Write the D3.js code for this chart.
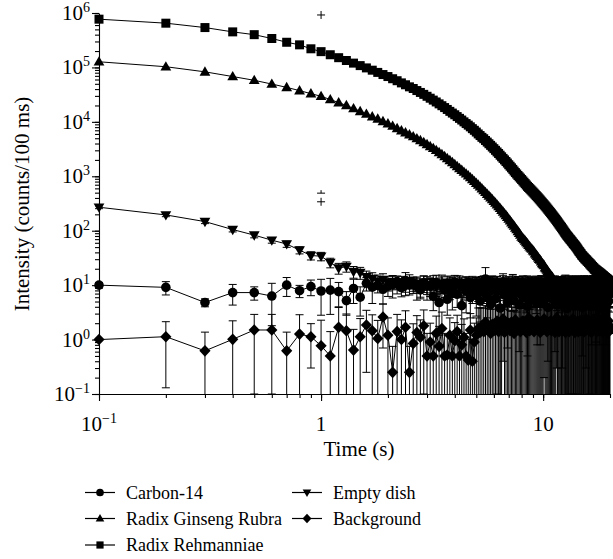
<!DOCTYPE html>
<html>
<head>
<meta charset="utf-8">
<script src="https://cdn.jsdelivr.net/npm/d3@7"></script>
<style>
  body { margin: 0; background: #fff; }
</style>
</head>
<body>
<svg id="chart" width="613" height="559"></svg>
<script>
// one reading every 100 ms, 0.1 s .. 20 s
var times = d3.range(1, 201).map(function (i) { return i / 10; });

var seriesNames = ['Carbon-14', 'Radix Ginseng Rubra', 'Radix Rehmanniae', 'Empty dish', 'Background'];

var carbonValues = [
  10, 9.1, 4.8, 7.3, 7.3, 6.3, 10, 7.9, 9.4, 7.8,
  8.1, 7.6, 5.2, 8.7, 6.0, 10.8, 9.2, 10, 8.4, 9.6,
  10.2, 11.6, 9.0, 12.2, 10.1, 10.9, 9.4, 8.2, 11, 9.8,
  9.5, 6.2, 11.0, 4.8, 10.2, 8.1, 5.5, 9.8, 7.0, 11.2,
  6.8, 10.4, 4.2, 9.1, 7.7, 11.3, 5.9, 8.6, 10.0, 6.4,
  9.2, 5.1, 10.8, 7.4, 13.0, 6.0, 9.6, 4.5, 11.0, 8.2,
  5.6, 10.1, 7.9, 3.8, 9.4, 11.5, 6.6, 8.8, 4.9, 10.6,
  8.0, 6.3, 11.2, 5.2, 9.7, 7.2, 10.4, 4.4, 8.9, 6.9,
  10.9, 5.8, 8.5, 7.5, 4.1, 11.1, 6.7, 9.3, 5.4, 10.2,
  7.8, 9.9, 6.1, 4.6, 10.7, 8.3, 5.0, 11.4, 7.1, 9.0,
  5.3, 10.5, 8.7, 6.5, 3.9, 9.8, 7.6, 11.0, 5.7, 8.4,
  10.1, 6.8, 4.7, 9.5, 7.3, 11.3, 5.5, 8.1, 6.2, 10.4,
  7.0, 4.3, 9.9, 8.6, 5.9, 10.8, 6.4, 3.7, 9.2, 7.7,
  11.0, 5.2, 8.3, 6.9, 10.3, 4.8, 9.0, 7.4, 5.6, 10.6,
  6.6, 9.4, 4.4, 11.2, 7.9, 5.3, 10.0, 8.5, 6.1, 3.9,
  9.7, 7.1, 10.9, 5.8, 8.2, 4.6, 11.1, 6.7, 9.3, 7.5,
  5.0, 10.2, 8.0, 6.3, 4.2, 9.6, 7.2, 10.7, 5.4, 8.8,
  10.5, 6.0, 4.9, 9.1, 7.6, 11.4, 5.7, 8.4, 6.8, 3.8,
  8.6, 10.0, 5.5, 7.3, 9.8, 4.5, 10.8, 6.5, 8.1, 5.9,
  9.4, 4.7, 10.3, 7.8, 6.2, 11.0, 5.1, 8.9, 7.0, 9.6
];
var carbonErrors = [
  1.2, 2.5, 0.8, 3.0, 2.0, 4.5, 3.8, 2.0, 3.0, 5.0,
  5.2, 3.6, 2.4, 4.1, 3.3, 3.0, 4.6, 2.8, 3.9, 3.4,
  4.4, 3.1, 2.9, 4.8, 3.5, 3.2, 4.1, 2.6, 3.7, 4.5,
  3.3, 2.8, 4.2, 3.6, 5.1, 3.0, 2.7, 4.4, 3.5, 3.9,
  2.9, 4.3, 3.2, 3.8, 4.6, 2.6, 3.4, 4.0, 3.1, 3.7,
  4.2, 3.0, 3.6, 2.8, 8.0, 3.5, 4.4, 2.9, 3.8, 3.3,
  3.6, 4.1, 2.7, 3.9, 3.2, 4.7, 3.0, 3.5, 4.2, 2.8,
  3.4, 3.0, 4.5, 3.7, 2.9, 4.0, 3.3, 3.8, 4.3, 3.1,
  3.9, 3.2, 2.8, 4.4, 3.6, 3.0, 4.1, 3.4, 3.7, 2.9,
  3.5, 4.0, 3.1, 3.8, 2.7, 3.3, 4.2, 3.6, 3.0, 3.9,
  3.2, 3.7, 2.9, 4.3, 3.5, 3.1, 3.8, 2.8, 4.4, 3.4,
  3.6, 3.0, 4.1, 3.3, 3.9, 2.8, 3.5, 4.2, 3.1, 3.7,
  3.3, 4.0, 2.9, 3.6, 3.2, 4.5, 3.0, 3.8, 3.4, 3.1,
  3.8, 3.2, 3.5, 2.9, 4.2, 3.4, 3.0, 3.7, 3.9, 3.3,
  3.1, 4.3, 3.0, 3.6, 2.8, 3.5, 4.1, 3.2, 3.8, 3.4,
  3.5, 2.9, 3.9, 3.3, 4.4, 3.0, 3.7, 3.1, 3.6, 4.0,
  3.2, 3.8, 2.7, 4.1, 3.4, 3.6, 3.0, 4.3, 3.3, 2.9,
  3.7, 3.1, 4.0, 2.8, 3.5, 3.9, 3.2, 3.6, 4.2, 3.0,
  3.4, 3.6, 3.0, 4.5, 3.1, 3.3, 3.8, 2.9, 3.7, 3.5,
  3.0, 3.9, 3.3, 3.6, 4.1, 3.2, 3.5, 3.0, 3.8, 3.4
];

var ginsengValues = [
  1.27e5, 1.03e5, 8.3e4, 6.8e4, 5.8e4, 4.95e4, 4.3e4, 3.75e4, 3.3e4, 2.95e4,
  2.57e4, 2.26e4, 2.0e4, 1.76e4, 1.56e4, 1.39e4, 1.25e4, 1.13e4, 1.02e4, 9270,
  8400, 7600, 6890, 6340, 5830, 5370, 4940, 4550, 4190, 3850,
  3550, 3270, 3000, 2750, 2530, 2320, 2130, 1960, 1800, 1650,
  1520, 1400, 1300, 1200, 1110, 1030, 948, 877, 811, 750,
  693, 641, 593, 548, 508, 471, 437, 406, 376, 348,
  324, 300, 278, 258, 239, 222, 206, 191, 177, 164,
  152, 141, 131, 122, 113, 105, 97, 90, 84, 77,
  73, 69, 65, 61, 58, 54, 51, 48, 46, 43,
  41, 38, 36, 34, 32, 30, 29, 27, 25, 24,
  23, 21, 20, 19, 18, 17, 16, 15.5, 14.5, 14,
  13, 12.5, 12, 11.5, 12, 10.5, 11, 10, 10.5, 9.5,
  10, 9, 11, 9.5, 8.5, 10, 9, 10.5, 8, 9.5,
  9, 10, 8.5, 11, 9, 8, 9.5, 10, 9, 8.5,
  10, 9, 8, 9.5, 11, 9, 8.5, 10, 9, 7.5,
  9, 10, 8.5, 9, 10.5, 8, 9, 9.5, 8.5, 10,
  9, 8, 10, 9.5, 8.5, 9, 11, 8, 9, 10,
  8.5, 9, 10, 9, 8, 9.5, 10.5, 9, 8.5, 9,
  10, 8, 9, 9.5, 11, 8.5, 9, 10, 8, 9.5,
  9, 10, 8.5, 9, 9.5, 8, 10.5, 9, 9, 8.5
];

var rehmanniaeValues = [
  7.7e5, 6.5e5, 5.4e5, 4.5e5, 4.0e5, 3.4e5, 2.9e5, 2.6e5, 2.2e5, 1.95e5,
  1.71e5, 1.51e5, 1.34e5, 1.20e5, 1.08e5, 9.8e4, 8.9e4, 8.1e4, 7.4e4, 6.8e4,
  6.2e4, 5.7e4, 5.2e4, 4.8e4, 4.4e4, 4.1e4, 3.76e4, 3.47e4, 3.2e4, 2.95e4,
  2.72e4, 2.51e4, 2.32e4, 2.14e4, 1.98e4, 1.83e4, 1.69e4, 1.56e4, 1.45e4, 1.35e4,
  1.25e4, 1.16e4, 1.08e4, 1.0e4, 9300, 8700, 8100, 7500, 7000, 6500,
  6000, 5600, 5200, 4900, 4550, 4250, 3960, 3700, 3450, 3220,
  3000, 2800, 2620, 2440, 2280, 2130, 2000, 1870, 1750, 1630,
  1530, 1430, 1340, 1250, 1170, 1100, 1035, 977, 923, 871,
  822, 776, 733, 692, 653, 622, 593, 565, 538, 513,
  489, 466, 444, 423, 403, 384, 366, 348, 332, 316,
  301, 287, 274, 261, 248, 237, 225, 215, 205, 195,
  186, 177, 169, 161, 153, 146, 139, 132, 126, 120,
  115, 109, 104, 99, 94, 90, 86, 82, 79, 76,
  73, 70, 68, 65, 63, 60, 58, 56, 54, 52,
  50, 48, 46, 44, 42, 41, 39, 38, 36, 35,
  34, 32.6, 32.4, 30.6, 30.3, 29.2, 28.9, 27.5, 27.4, 26.1,
  25.9, 24.6, 24.6, 23.2, 23.3, 21.9, 22.1, 20.8, 20.9, 19.6,
  19.9, 18.9, 19.2, 18.2, 18.5, 17.5, 17.8, 16.9, 17.2, 16.3,
  16.6, 15.7, 16.0, 15.1, 15.4, 14.5, 14.9, 14.0, 14.3, 13.5,
  13.8, 13.0, 13.3, 12.5, 12.9, 12.0, 12.4, 11.6, 12.0, 11.3
];

var emptyDishValues = [
  270, 195, 147, 105, 83, 67, 57, 44, 35, 34,
  26, 20.5, 22, 17.7, 17, 14.3, 13.2, 11.8, 12.6, 11.2,
  11.6, 10.0, 11.2, 9.4, 12.0, 10.2, 10.8, 9.0, 11.4, 9.8,
  10.4, 11.5, 9.2, 10.3, 10.9, 8.8, 11.3, 9.9, 10.6, 9.1,
  11.4, 9.5, 10.5, 8.9, 11.0, 9.9, 9.3, 11.2, 9.6, 10.6,
  9.0, 10.9, 9.6, 11.4, 9.2, 10.3, 9.8, 11.1, 8.7, 10.5,
  10.1, 11.2, 9.1, 10.2, 9.7, 11.5, 8.8, 10.8, 9.4, 11.0,
  10.4, 9.0, 11.3, 9.6, 10.7, 9.2, 11.1, 9.9, 10.2, 8.9,
  11.2, 9.8, 10.5, 9.1, 11.4, 9.4, 10.6, 8.8, 11.0, 9.9,
  10.3, 9.2, 11.3, 9.5, 10.8, 9.0, 11.0, 10.0, 10.4, 9.3,
  11.2, 9.7, 10.2, 9.0, 11.5, 9.4, 10.6, 8.7, 11.1, 9.9,
  10.1, 9.1, 11.4, 9.6, 10.9, 8.9, 11.0, 9.8, 10.5, 9.2,
  11.1, 9.3, 10.7, 8.9, 11.5, 9.8, 10.3, 8.8, 11.0, 10.0,
  10.5, 9.0, 11.3, 9.5, 10.8, 9.2, 11.1, 9.7, 10.2, 9.1,
  11.4, 9.6, 10.4, 8.9, 11.0, 10.0, 10.6, 8.9, 11.2, 9.4,
  10.7, 9.2, 11.4, 9.8, 10.3, 8.8, 11.1, 9.9, 10.5, 9.3,
  11.0, 9.1, 10.9, 9.5, 11.3, 9.7, 10.2, 9.0, 11.2, 10.0,
  10.4, 8.9, 11.5, 9.4, 10.6, 9.2, 11.0, 9.8, 10.4, 8.8,
  11.3, 10.0, 10.7, 9.0, 11.1, 9.6, 10.5, 9.1, 11.4, 9.5,
  10.8, 9.2, 11.1, 9.8, 10.3, 8.9, 11.2, 9.7, 10.6, 9.3
];
var emptyDishErrors = [
  16, 14, 12, 10, 9, 8, 7.5, 6.5, 6, 6,
  5.2, 4.6, 4.7, 4.3, 4.2, 3.8, 3.7, 3.5, 3.6, 3.4,
  3.4, 3.1, 3.3, 3.0, 3.5, 3.2, 3.3, 3.0, 3.4, 3.1,
  3.2, 3.4, 3.0, 3.2, 3.3, 2.9, 3.4, 3.1, 3.3, 3.0,
  3.4, 3.1, 3.2, 3.0, 3.3, 3.1, 3.0, 3.3, 3.1, 3.2,
  3.0, 3.3, 3.1, 3.4, 3.0, 3.2, 3.1, 3.3, 2.9, 3.2,
  3.2, 3.3, 3.0, 3.2, 3.1, 3.4, 3.0, 3.3, 3.1, 3.3,
  3.2, 3.0, 3.4, 3.1, 3.3, 3.0, 3.3, 3.1, 3.2, 3.0,
  3.3, 3.1, 3.2, 3.0, 3.4, 3.1, 3.3, 3.0, 3.3, 3.1,
  3.2, 3.0, 3.4, 3.1, 3.3, 3.0, 3.3, 3.2, 3.2, 3.1,
  3.3, 3.1, 3.2, 3.0, 3.4, 3.1, 3.3, 2.9, 3.3, 3.1,
  3.2, 3.0, 3.4, 3.1, 3.3, 3.0, 3.3, 3.1, 3.2, 3.0,
  3.3, 3.1, 3.3, 3.0, 3.4, 3.1, 3.2, 3.0, 3.3, 3.2,
  3.2, 3.0, 3.4, 3.1, 3.3, 3.0, 3.3, 3.1, 3.2, 3.0,
  3.4, 3.1, 3.2, 3.0, 3.3, 3.2, 3.3, 3.0, 3.3, 3.1,
  3.3, 3.0, 3.4, 3.1, 3.2, 3.0, 3.3, 3.1, 3.2, 3.1,
  3.3, 3.0, 3.3, 3.1, 3.4, 3.1, 3.2, 3.0, 3.3, 3.2,
  3.2, 3.0, 3.4, 3.1, 3.3, 3.0, 3.3, 3.1, 3.2, 3.0,
  3.4, 3.2, 3.3, 3.0, 3.3, 3.1, 3.2, 3.0, 3.4, 3.1,
  3.3, 3.0, 3.3, 3.1, 3.2, 3.0, 3.3, 3.1, 3.3, 3.0
];

var backgroundValues = [
  1.0, 1.13, 0.62, 1.01, 1.5, 1.5, 0.62, 1.26, 1.13, 0.77,
  0.5, 1.68, 1.45, 0.64, 1.13, 1.85, 1.45, 1.05, 2.6, 1.2,
  0.25, 1.4, 1.0, 1.68, 0.25, 0.85, 1.35, 1.1, 1.8, 0.5,
  0.9, 0.5, 1.3, 0.75, 1.6, 0.5, 0.52, 1.2, 0.5, 0.95,
  1.4, 0.5, 0.8, 1.1, 0.5, 0.42, 1.5, 0.4, 0.9, 1.2,
  1.6, 1.35, 1.8, 1.4, 2.1, 1.5, 1.7, 1.3, 1.9, 1.45,
  1.6, 2.2, 1.4, 1.8, 1.5, 2.4, 1.35, 1.9, 1.7, 2.0,
  1.45, 2.1, 1.6, 1.3, 2.3, 1.75, 1.5, 2.0, 1.4, 1.85,
  2.2, 1.55, 1.9, 1.35, 1.7, 2.5, 1.45, 1.8, 1.6, 2.1,
  1.4, 1.95, 1.65, 2.3, 1.5, 1.8, 1.35, 2.0, 1.7, 1.55,
  2.4, 1.6, 1.85, 1.4, 2.1, 1.5, 1.75, 2.2, 1.45, 1.9,
  1.65, 2.0, 1.35, 1.8, 2.5, 1.55, 1.7, 1.4, 2.1, 1.6,
  1.9, 1.45, 2.2, 1.6, 1.75, 1.35, 2.3, 1.5, 1.85, 1.7,
  1.4, 2.1, 1.65, 1.95, 1.5, 2.4, 1.6, 1.8, 1.35, 2.0,
  1.75, 1.5, 2.2, 1.4, 1.9, 1.65, 2.0, 1.45, 2.3, 1.55,
  1.8, 2.1, 1.4, 1.7, 1.55, 2.4, 1.5, 1.85, 1.6, 1.95,
  1.45, 2.2, 1.65, 1.9, 1.35, 2.0, 1.75, 1.5, 2.3, 1.6,
  2.0, 1.55, 1.8, 1.4, 2.5, 1.7, 1.45, 1.95, 1.6, 2.1,
  1.5, 1.85, 2.2, 1.65, 1.4, 2.0, 1.75, 2.4, 1.55, 1.8,
  1.7, 1.45, 2.1, 1.6, 1.9, 1.35, 2.2, 1.5, 1.8, 1.65
];
var backgroundErrors = [
  0, 1.0, 0.75, 1.2, 1.4, 1.4, 0.75, 1.6, 0.83, 1.5,
  0.9, 2.2, 1.5, 0.9, 1.3, 1.6, 1.4, 1.2, 1.9, 1.3,
  0.5, 1.5, 1.3, 1.7, 0.5, 1.1, 1.4, 1.2, 1.7, 0.8,
  1.1, 0.8, 1.4, 1.0, 1.6, 0.8, 0.7, 1.3, 0.8, 1.1,
  1.4, 0.8, 1.1, 1.3, 0.8, 0.6, 1.5, 0.6, 1.1, 1.3,
  2.2, 2.5, 2.0, 2.4, 2.1, 2.6, 2.0, 2.3, 2.5, 2.2,
  2.4, 2.1, 2.6, 2.2, 2.3, 2.0, 2.5, 2.2, 2.4, 2.1,
  2.0, 2.5, 2.3, 2.1, 2.6, 2.2, 2.4, 2.0, 2.3, 2.5,
  2.3, 2.2, 2.5, 2.0, 2.4, 2.6, 2.1, 2.3, 2.2, 2.4,
  2.5, 2.1, 2.3, 2.4, 2.0, 2.2, 2.6, 2.1, 2.5, 2.3,
  2.2, 2.4, 2.0, 2.6, 2.3, 2.1, 2.5, 2.2, 2.4, 2.0,
  2.4, 2.3, 2.5, 2.1, 2.2, 2.6, 2.0, 2.4, 2.3, 2.5,
  2.1, 2.5, 2.2, 2.3, 2.6, 2.0, 2.4, 2.2, 2.5, 2.1,
  2.3, 2.0, 2.4, 2.5, 2.2, 2.3, 2.6, 2.1, 2.2, 2.4,
  2.5, 2.2, 2.1, 2.4, 2.3, 2.5, 2.0, 2.6, 2.2, 2.3,
  2.0, 2.4, 2.6, 2.2, 2.5, 2.1, 2.3, 2.4, 2.0, 2.5,
  2.4, 2.1, 2.3, 2.5, 2.2, 2.4, 2.6, 2.0, 2.3, 2.2,
  2.2, 2.6, 2.0, 2.3, 2.5, 2.1, 2.4, 2.2, 2.6, 2.3,
  2.5, 2.3, 2.2, 2.4, 2.1, 2.5, 2.0, 2.3, 2.4, 2.2,
  2.3, 2.1, 2.5, 2.2, 2.4, 2.0, 2.6, 2.3, 2.1, 2.4
];

// stray error caps printed at t = 1 s
var strayCapTimes = [1, 1, 1];
var strayCapValues = [9.2e5, 490, 340];

var xTickValues = [0.1, 1, 10];
var xTickBase = ['10', '1', '10'];
var xTickExp = ['\u22121', '', ''];
var yTickValues = [0.1, 1, 10, 100, 1000, 1e4, 1e5, 1e6];
var yTickExp = ['\u22121', '0', '1', '2', '3', '4', '5', '6'];

var serif = 'Liberation Serif';
var svg = d3.select('#chart');

var x = d3.scaleLog().domain([0.1, 20]).range([99, 610]);
var y = d3.scaleLog().domain([0.1, 1e6]).range([394, 13]);

// ---- axes ----
var xAxisG = svg.append('g').attr('transform', 'translate(0,394)');
xAxisG.call(d3.axisBottom(x).tickValues(x.ticks()).tickSize(4).tickSizeOuter(0).tickFormat(''));
xAxisG.append('g').call(d3.axisBottom(x).tickValues(xTickValues).tickSize(7).tickFormat(''))
  .select('.domain').remove();

var yAxisG = svg.append('g').attr('transform', 'translate(99,0)');
yAxisG.call(d3.axisLeft(y).tickValues(y.ticks()).tickSize(4).tickSizeOuter(0).tickFormat(''));
yAxisG.append('g').call(d3.axisLeft(y).tickValues(yTickValues).tickSize(7).tickFormat(''))
  .select('.domain').remove();

svg.selectAll('.domain, .tick line').attr('stroke', '#000').attr('stroke-width', 1.1);

var xLab = svg.append('g').selectAll('text').data(xTickValues).join('text')
  .attr('x', function (d) { return x(d); })
  .attr('y', 431)
  .attr('text-anchor', 'middle')
  .attr('font-family', serif)
  .attr('font-size', 21);
xLab.append('tspan').text(function (d, i) { return xTickBase[i]; });
xLab.append('tspan').attr('dy', -8).attr('font-size', 14)
  .text(function (d, i) { return xTickExp[i]; });

var yLab = svg.append('g').selectAll('text').data(yTickValues).join('text')
  .attr('x', 90)
  .attr('y', function (d) { return y(d) + 7; })
  .attr('text-anchor', 'end')
  .attr('font-family', serif)
  .attr('font-size', 21);
yLab.append('tspan').text('10');
yLab.append('tspan').attr('dy', -8).attr('font-size', 14)
  .text(function (d, i) { return yTickExp[i]; });

svg.append('text')
  .attr('x', 359).attr('y', 456)
  .attr('text-anchor', 'middle')
  .attr('font-family', serif)
  .attr('font-size', 21)
  .text('Time (s)');

svg.append('text')
  .attr('transform', 'translate(29,204) rotate(-90)')
  .attr('text-anchor', 'middle')
  .attr('font-family', serif)
  .attr('font-size', 21)
  .text('Intensity (counts/100 ms)');

// ---- markers ----
var shapes = {
  circle: function (k) { var r = 4.8 * k; return 'M' + (-r) + ',0A' + r + ',' + r + ' 0 1,0 ' + r + ',0A' + r + ',' + r + ' 0 1,0 ' + (-r) + ',0Z'; },
  up: function (k) { return 'M0,' + (-5.6 * k) + 'L' + (5.4 * k) + ',' + (3.8 * k) + 'L' + (-5.4 * k) + ',' + (3.8 * k) + 'Z'; },
  square: function (k) { var h = 4.5 * k; return 'M' + (-h) + ',' + (-h) + 'H' + h + 'V' + h + 'H' + (-h) + 'Z'; },
  down: function (k) { return 'M0,' + (5.6 * k) + 'L' + (5.4 * k) + ',' + (-3.8 * k) + 'L' + (-5.4 * k) + ',' + (-3.8 * k) + 'Z'; },
  diamond: function (k) { return 'M0,' + (-5.8 * k) + 'L' + (5.6 * k) + ',0L0,' + (5.8 * k) + 'L' + (-5.6 * k) + ',0Z'; }
};

var series = [
  { name: seriesNames[4], values: backgroundValues, errors: backgroundErrors, shape: 'diamond' },
  { name: seriesNames[3], values: emptyDishValues, errors: emptyDishErrors, shape: 'down' },
  { name: seriesNames[0], values: carbonValues, errors: carbonErrors, shape: 'circle' },
  { name: seriesNames[1], values: ginsengValues, errors: null, shape: 'up' },
  { name: seriesNames[2], values: rehmanniaeValues, errors: null, shape: 'square' }
];

var line = d3.line()
  .x(function (d) { return x(d.t); })
  .y(function (d) { return y(d.v); });

var plot = svg.append('g');
var capW = 4;

series.forEach(function (s) {
  var pts = times.map(function (t, i) {
    return { t: t, v: s.values[i], e: s.errors ? s.errors[i] : 0 };
  });
  var g = plot.append('g');

  g.append('path').datum(pts)
    .attr('d', line)
    .attr('fill', 'none')
    .attr('stroke', '#000')
    .attr('stroke-width', 1);

  var bars = g.append('g').attr('stroke', '#000').attr('stroke-width', 1)
    .selectAll('g').data(pts.filter(function (d) { return d.e > 0; })).join('g');
  bars.append('line')
    .attr('x1', function (d) { return x(d.t); })
    .attr('x2', function (d) { return x(d.t); })
    .attr('y1', function (d) { return y(d.v + d.e); })
    .attr('y2', function (d) { return d.v - d.e > 0.1 ? y(d.v - d.e) : y(0.1); });
  bars.append('line')
    .attr('x1', function (d) { return x(d.t) - capW; })
    .attr('x2', function (d) { return x(d.t) + capW; })
    .attr('y1', function (d) { return y(d.v + d.e); })
    .attr('y2', function (d) { return y(d.v + d.e); });
  bars.filter(function (d) { return d.v - d.e > 0.1; }).append('line')
    .attr('x1', function (d) { return x(d.t) - capW; })
    .attr('x2', function (d) { return x(d.t) + capW; })
    .attr('y1', function (d) { return y(d.v - d.e); })
    .attr('y2', function (d) { return y(d.v - d.e); });

  g.append('g').selectAll('path').data(pts).join('path')
    .attr('d', shapes[s.shape](1))
    .attr('fill', '#000')
    .attr('transform', function (d) { return 'translate(' + x(d.t) + ',' + y(d.v) + ')'; });
});

// stray caps
var stray = plot.append('g').attr('stroke', '#000').attr('stroke-width', 1)
  .selectAll('g').data(strayCapTimes.map(function (t, i) { return { t: t, v: strayCapValues[i] }; }))
  .join('g')
  .attr('transform', function (d) { return 'translate(' + x(d.t) + ',' + y(d.v) + ')'; });
stray.append('line').attr('x1', -capW).attr('x2', capW).attr('y1', 0).attr('y2', 0);
stray.append('line').attr('x1', 0).attr('x2', 0)
  .attr('y1', function (d, i) { return i === 1 ? -3 : -4; })
  .attr('y2', function (d, i) { return i === 1 ? 0 : 4; });

// ---- legend ----
var legendItems = [
  { name: seriesNames[0], shape: 'circle', lx: 85, ly: 492.5 },
  { name: seriesNames[1], shape: 'up', lx: 85, ly: 518.5 },
  { name: seriesNames[2], shape: 'square', lx: 85, ly: 545 },
  { name: seriesNames[3], shape: 'down', lx: 292, ly: 492.5 },
  { name: seriesNames[4], shape: 'diamond', lx: 292, ly: 518.5 }
];
var leg = svg.append('g').selectAll('g').data(legendItems).join('g')
  .attr('transform', function (d) { return 'translate(' + d.lx + ',' + d.ly + ')'; });
leg.append('line').attr('x1', 0).attr('x2', 30).attr('y1', 0).attr('y2', 0)
  .attr('stroke', '#000').attr('stroke-width', 1.2);
leg.append('path').attr('d', function (d) { return shapes[d.shape](0.8); })
  .attr('fill', '#000').attr('transform', 'translate(15,0)');
leg.append('text').attr('x', 41).attr('y', 6)
  .attr('font-family', serif)
  .attr('font-size', 18)
  .text(function (d) { return d.name; });
</script>
</body>
</html>
